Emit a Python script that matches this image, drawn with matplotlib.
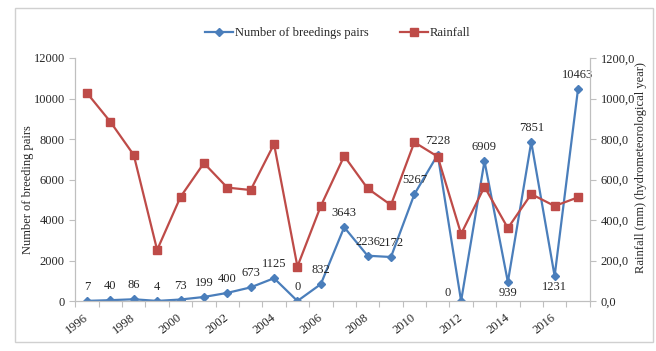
import numpy as np
import matplotlib.pyplot as plt
from matplotlib.patches import Rectangle
from matplotlib.ticker import FuncFormatter

plt.rcParams['font.family'] = ['Liberation Serif', 'DejaVu Serif']

# ---- data ----
years = list(range(1996, 2018))
pairs = [7, 40, 86, 4, 73, 199, 400, 673, 1125, 0, 832,
         3643, 2236, 2172, 5267, 7228, 0, 6909, 939, 7851, 1231, 10463]
rainfall = [1027, 885, 721, 252, 514, 681, 560, 548, 775, 170, 469,
            716, 556, 474, 784, 713, 331, 564, 360, 528, 469, 512]

blue = '#4a7ebb'
red = '#be4b48'
grey = '#bfbfbf'
txt = '#262626'

x = np.arange(len(years))

fig = plt.figure(figsize=(6.56, 3.51), dpi=100)
fig.patches.append(Rectangle((15 / 656, 9 / 351), 638 / 656, 334 / 351,
                             transform=fig.transFigure, fill=False,
                             edgecolor='#d0d0d0', linewidth=1.0))

ax = fig.add_axes([75.3 / 656, 50 / 351, 514.4 / 656, 243 / 351])
ax2 = ax.twinx()

l1, = ax.plot(x, pairs, color=blue, lw=1.6, marker='D', ms=4.5,
              label='Number of breedings pairs')
l2, = ax2.plot(x, rainfall, color=red, lw=1.6, marker='s', ms=6,
               label='Rainfall')

ax.set_xlim(-0.5, len(years) - 0.5)
ax.set_ylim(0, 12000)
ax2.set_ylim(0, 1200)
ax.set_yticks(range(0, 12001, 2000))
ax2.set_yticks(range(0, 1201, 200))
ax2.yaxis.set_major_formatter(FuncFormatter(lambda v, p: f'{v:.1f}'.replace('.', ',')))

# x ticks at category boundaries, labels every two years
ax.set_xticks(np.arange(-0.5, len(years), 1))
ax.set_xticklabels([])
ax.set_xticks(x[::2], minor=True)
ax.set_xticklabels([str(y) for y in years[::2]], minor=True,
                   rotation=38, ha='right', va='center', rotation_mode='anchor')

for a in (ax, ax2):
    a.spines['top'].set_visible(False)
    for s in ('left', 'right', 'bottom'):
        a.spines[s].set_color(grey)
        a.spines[s].set_linewidth(0.8)
    a.tick_params(which='both', colors=grey, labelcolor=txt, labelsize=9,
                  length=4, width=0.8)
ax.tick_params(axis='x', which='minor', length=0, pad=11)
ax2.tick_params(axis='y', pad=4)

ax.set_ylabel('Number of breeding pairs', fontsize=9, color=txt)
ax.yaxis.set_label_coords(-0.080, 0.46)
ax2.set_ylabel('Rainfall (mm) (hydrometeorological year)', fontsize=9, color=txt)
ax2.yaxis.set_label_coords(1.088, 0.55)

# data labels
for i, v in enumerate(pairs):
    if years[i] == 2012:
        ax.annotate(str(v), (i, v), xytext=(-10, 6), textcoords='offset points',
                    ha='center', va='center', fontsize=9, color=txt)
    elif years[i] in (2014, 2016):
        ax.annotate(str(v), (i, v), xytext=(0, -8), textcoords='offset points',
                    ha='center', va='center', fontsize=9, color=txt)
    else:
        ax.annotate(str(v), (i, v), xytext=(0, 10), textcoords='offset points',
                    ha='center', va='center', fontsize=9, color=txt)

fig.legend(handles=[l1, l2], loc='center', bbox_to_anchor=(0.515, 0.905),
           ncol=2, frameon=False, fontsize=9, handlelength=2.2,
           columnspacing=2.5, handletextpad=0.2, labelcolor=txt)

fig.savefig('out.png', dpi=100)
